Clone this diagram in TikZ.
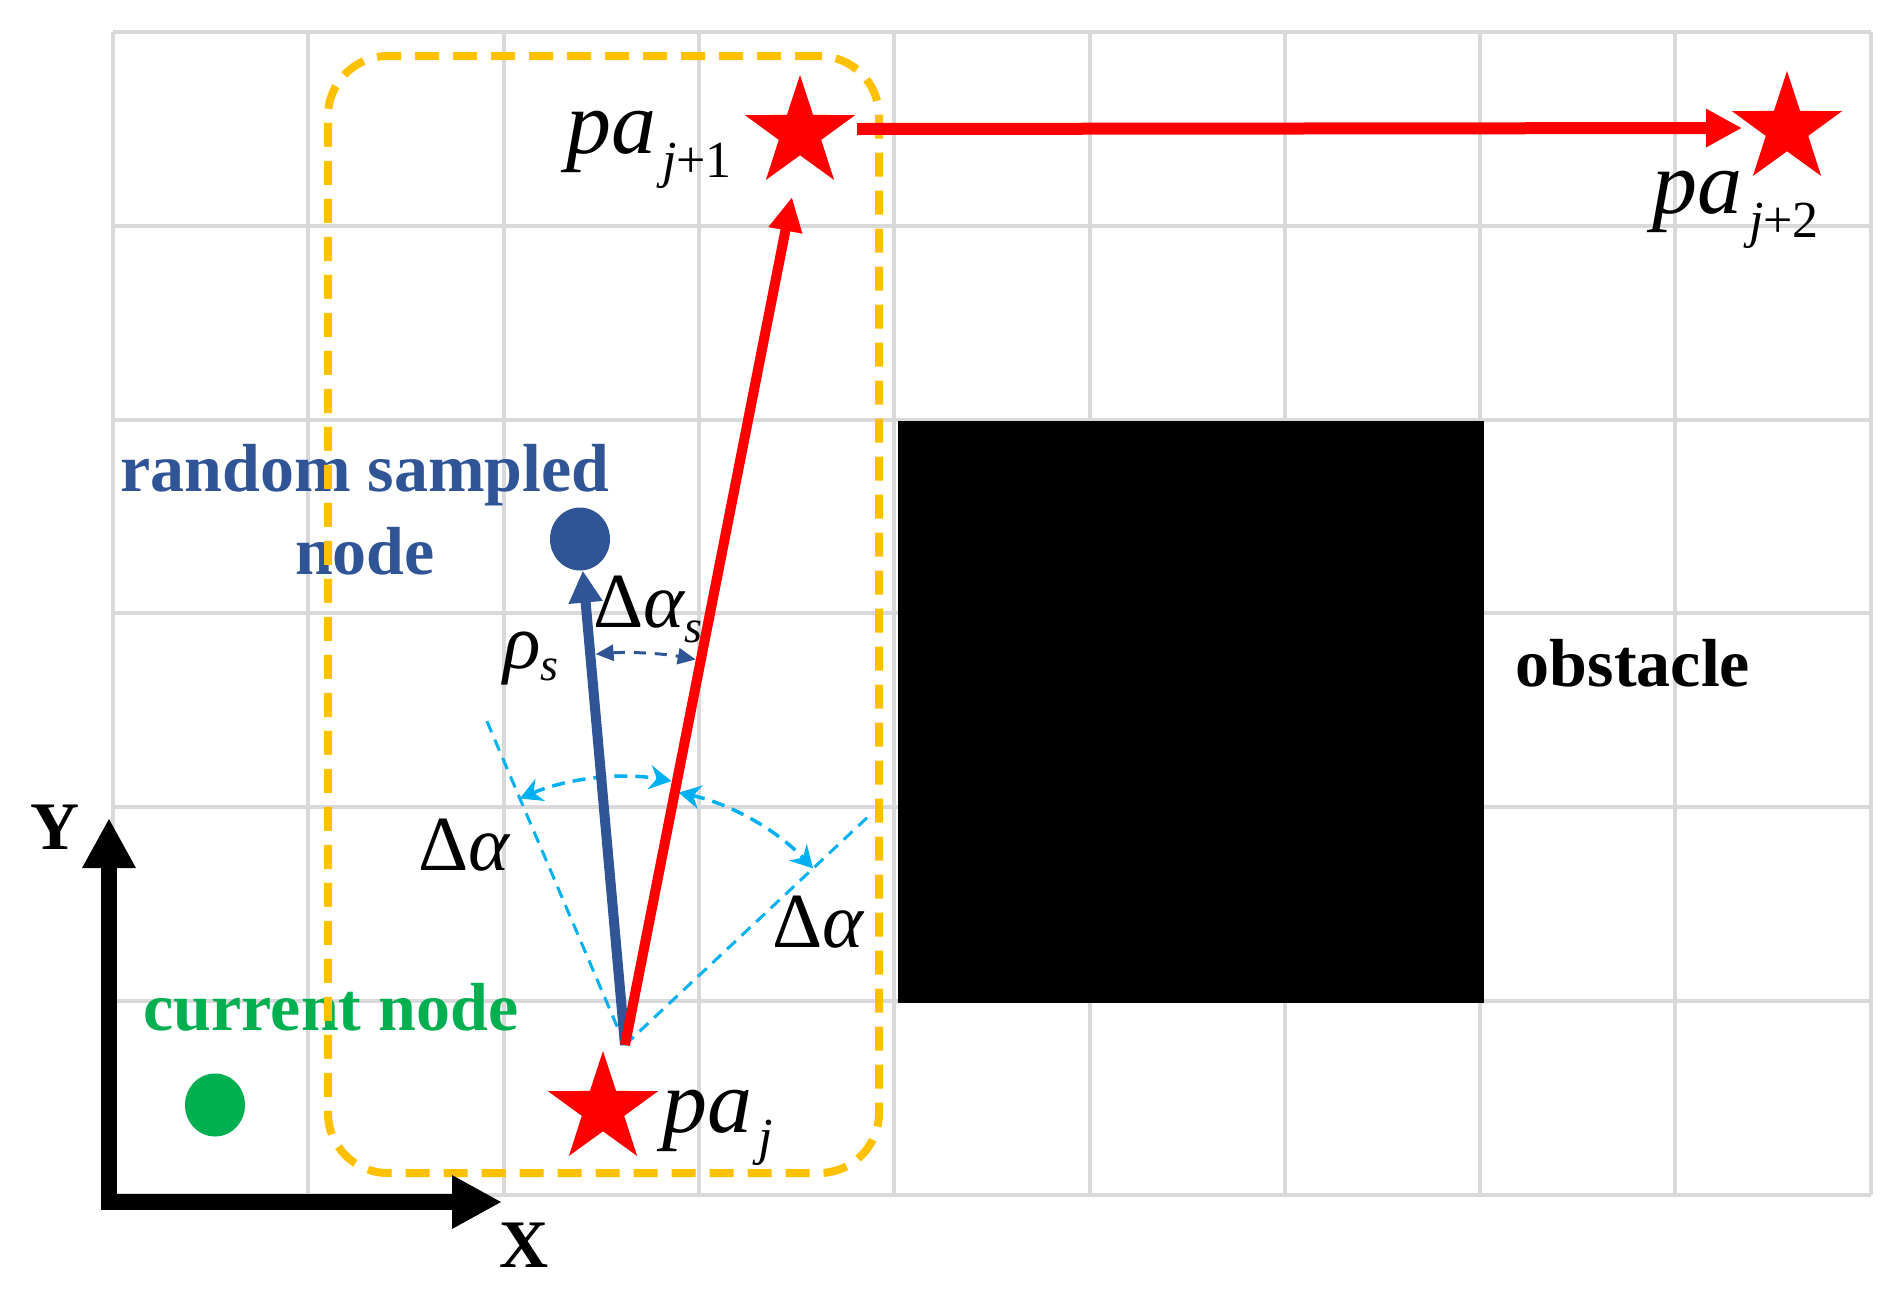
\documentclass[tikz,border=0pt]{standalone}
\usepackage{fontspec}
\setmainfont{Liberation Serif}
\usetikzlibrary{arrows.meta,shapes.geometric,calc}
\definecolor{dblue}{HTML}{2F5597}
\definecolor{lblue}{HTML}{00B0F0}
\definecolor{ored}{HTML}{FF0000}
\definecolor{oyellow}{HTML}{FFC000}
\definecolor{ogreen}{HTML}{00B050}
\definecolor{gridgray}{HTML}{D9D9D9}
\newcommand\bigf{\fontsize{90}{96}\selectfont}
\newcommand\smallf{\fontsize{52}{56}\selectfont}
\newcommand\subsf{\fontsize{46}{50}\selectfont}
\newcommand\grkf{\fontsize{78}{84}\selectfont}
\newcommand\boldf{\fontsize{68}{83}\selectfont\bfseries}
\begin{document}
\begin{tikzpicture}[x=1pt,y=-1pt,
  gridline/.style={draw=gridgray,line width=4pt},
  pstar/.style={star,star points=5,star point ratio=2.6,fill=ored,draw=none,minimum size=116pt,inner sep=0pt},
  dot/.style={ellipse,inner sep=0pt,minimum width=60pt,minimum height=63pt},
  lbl/.style={inner sep=0pt,anchor=base west},
  btxt/.style={inner sep=0pt,font=\boldf},
  ray/.style={draw=lblue,line width=3pt,dash pattern=on 12pt off 8pt},
  arcl/.style={draw=lblue,line width=3.5pt,dash pattern=on 13pt off 8pt,{Stealth[length=22pt,width=24pt]}-{Stealth[length=22pt,width=24pt]}},
  arcsm/.style={draw=dblue,line width=3pt,dash pattern=on 12pt off 9pt,{Triangle[length=18pt,width=16pt]}-{Triangle[length=18pt,width=16pt]}},
  redarrow/.style={draw=ored,line width=10pt,-{Triangle[length=34pt,width=32pt]}},
  bluearrow/.style={draw=dblue,line width=10pt,-{Triangle[length=32pt,width=32pt]}},
  axis/.style={draw=black,line width=16pt,line join=miter,{Triangle[length=50pt,width=50pt]}-{Triangle[length=50pt,width=50pt]}},
  frame/.style={draw=oyellow,line width=8pt,dash pattern=on 24pt off 14pt,rounded corners=60pt,inner sep=0pt}
]
\useasboundingbox (0,0) rectangle (1895,1291);
% grid
\foreach \i in {0,...,9} { \draw[gridline] ({113+195.3*\i},32) -- ({113+195.3*\i},1195); }
\foreach \j in {0,...,6} { \draw[gridline] (113,{32+193.8*\j}) -- (1871,{32+193.8*\j}); }
% obstacle
\node[fill=black,draw=none,inner sep=0pt,minimum width=586pt,minimum height=582pt] (obs) at (1191,712) {};
% texts
\node[btxt,text=dblue,align=center,anchor=north] (lrand) at (365,444) {random sampled\\node};
\node[btxt,text=ogreen,anchor=base] (lcur) at (331,1030) {current node};
\node[btxt,anchor=base] (lobs) at (1633,686) {obstacle};
\node[btxt,anchor=base] (lY) at (55,849) {Y};
\node[btxt,anchor=base] (lX) at (524,1267) {X};
% dashed frame
\node[frame,minimum width=551pt,minimum height=1117pt] (box) at (603.5,614.5) {};
% key points
\coordinate (O) at (625,1045);
\coordinate (r1tip) at (792,197);
\coordinate (hstart) at (857,129);
\coordinate (htip) at (1742,128);
\coordinate (ax0) at (109,1202);
\coordinate (xtip) at (502,1202);
\coordinate (ytip) at (109,818);
% angle rays and arcs
\coordinate (rayL) at ($(O)+(-113.1:359)$);
\coordinate (rayR) at ($(O)+(-43.2:340)$);
\draw[ray] (O) -- (rayL);
\draw[ray] (O) -- (rayR);
\draw[arcl] ($(O)+(-113.1:268)$) arc[start angle=-113.1,end angle=-80,radius=268];
\draw[arcl] ($(O)+(-78:258)$) arc[start angle=-78,end angle=-43.2,radius=258];
\draw[arcsm] ($(O)+(-94.3:392)$) arc[start angle=-94.3,end angle=-79.6,radius=392];
% nodes
\node[dot,fill=dblue] (bdot) at (580,539) {};
\node[dot,fill=ogreen] (gdot) at (215,1105) {};
\node[pstar] (pa0) at (603,1109) {};
\node[pstar] (pa1) at (800,133) {};
\node[pstar] (pa2) at (1787,129) {};
% arrows
\draw[bluearrow] (O) -- (bdot);
\draw[redarrow] (O) -- (r1tip);
\draw[draw=ored,line width=12pt,-{Triangle[length=36pt,width=36pt]}] (hstart) -- (htip);
\draw[axis] (xtip) -- (ax0) -- (ytip);
% math labels
\node[lbl] (lpa1) at (566,153) {\bigf\itshape pa\kern6pt\raisebox{-24pt}{\smallf j\upshape +1}};
\node[lbl] (lpa0) at (662,1132) {\bigf\itshape pa\kern6pt\raisebox{-22pt}{\smallf j}};
\node[lbl] (lpa2) at (1652,213) {\bigf\itshape pa\kern7pt\raisebox{-24pt}{\smallf j\upshape +2}};
\node[lbl] (lda1) at (418,870) {\grkf Δ{\itshape α}};
\node[lbl] (lda2) at (772,947) {\grkf Δ{\itshape α}};
\node[lbl] (ldas) at (593,627) {\grkf Δ{\itshape α}\raisebox{-15pt}{\subsf\itshape s}};
\node[lbl] (lrho) at (503,668) {\grkf\itshape ρ\raisebox{-12pt}{\subsf s}};
\end{tikzpicture}
\end{document}
